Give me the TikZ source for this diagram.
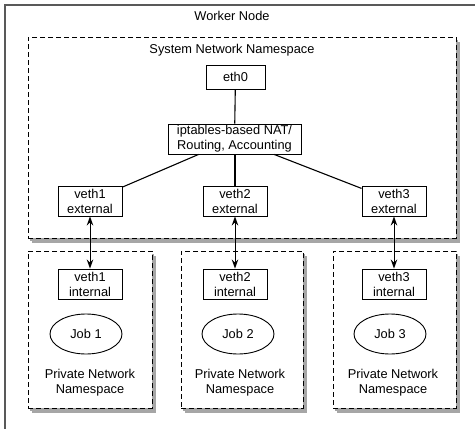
\documentclass[tikz,border=0pt]{standalone}
\usepackage{fontspec}
\setmainfont{Liberation Sans}
\usetikzlibrary{arrows.meta,shapes.geometric,shadows}
\begin{document}
\begin{tikzpicture}[x=1pt,y=-1pt,
  font=\fontsize{12.8}{15}\selectfont,
  box/.style={draw, line width=0.9pt, minimum width=64pt, minimum height=30pt,
    inner sep=0pt, align=center, fill=white},
  ns/.style={draw, line width=0.9pt, dash pattern=on 5pt off 3pt, fill=white,
    inner sep=0pt,
    double copy shadow={shadow xshift=1.8pt, shadow yshift=-2.6pt, fill=black!35, draw=none,
      shadow scale=1}},
  outer/.style={draw=black!65, line width=1.3pt, fill=white, inner sep=0pt},
  job/.style={draw, ellipse, line width=0.9pt, minimum width=72pt, minimum height=40pt, inner sep=0pt},
  lbl/.style={align=center, inner sep=0pt},
  link/.style={line width=1.1pt},
  dbl/.style={line width=1pt, {Stealth[length=9pt,width=6.5pt]}-{Stealth[length=9pt,width=6.5pt]}}
]
\useasboundingbox (0,0) rectangle (475,429);
\clip (0,0) rectangle (475,429);

% outer worker node box (cropped at right and bottom)
\node[outer, minimum width=490pt, minimum height=450pt] (worker) at (250,230) {};
\node[lbl] (workerlbl) at (232,16) {Worker Node};

% system namespace
\node[ns, minimum width=428pt, minimum height=201pt] (sys) at (242,137.5) {};
\node[lbl] (syslbl) at (232,50) {System Network Namespace};

% private namespaces
\node[ns, minimum width=124pt, minimum height=157pt] (p1) at (90,329.5) {};
\node[ns, minimum width=122pt, minimum height=157pt] (p2) at (242,329.5) {};
\node[ns, minimum width=123pt, minimum height=157pt] (p3) at (394.5,329.5) {};

% system nodes
\node[box, minimum width=59pt, minimum height=24pt] (eth0) at (235.5,77) {eth0};
\node[box, minimum width=133pt] (ipt) at (234.5,139) {iptables-based NAT/\\Routing, Accounting};
\node[box] (v1e) at (90,201) {veth1\\external};
\node[box] (v2e) at (235,201) {veth2\\external};
\node[box] (v3e) at (394,201) {veth3\\external};

% internal nodes
\node[box] (v1i) at (90,284) {veth1\\internal};
\node[box] (v2i) at (235,284) {veth2\\internal};
\node[box] (v3i) at (394,284) {veth3\\internal};

% jobs
\node[job] (j1) at (86,334) {Job 1};
\node[job] (j2) at (238,334) {Job 2};
\node[job] (j3) at (390,334) {Job 3};

% labels
\node[lbl] (l1) at (90,382.5) {Private Network\\Namespace};
\node[lbl] (l2) at (240,382.5) {Private Network\\Namespace};
\node[lbl] (l3) at (393,382.5) {Private Network\\Namespace};

% connections
\draw[link] (eth0) -- (ipt);
\draw[link] (ipt) -- (v1e);
\draw[link] (ipt.south -| v2e) -- (v2e);
\draw[link] (ipt) -- (v3e);

\draw[dbl] (v1e) -- (v1i);
\draw[dbl] (v2e) -- (v2i);
\draw[dbl] (v3e) -- (v3i);
\end{tikzpicture}
\end{document}
